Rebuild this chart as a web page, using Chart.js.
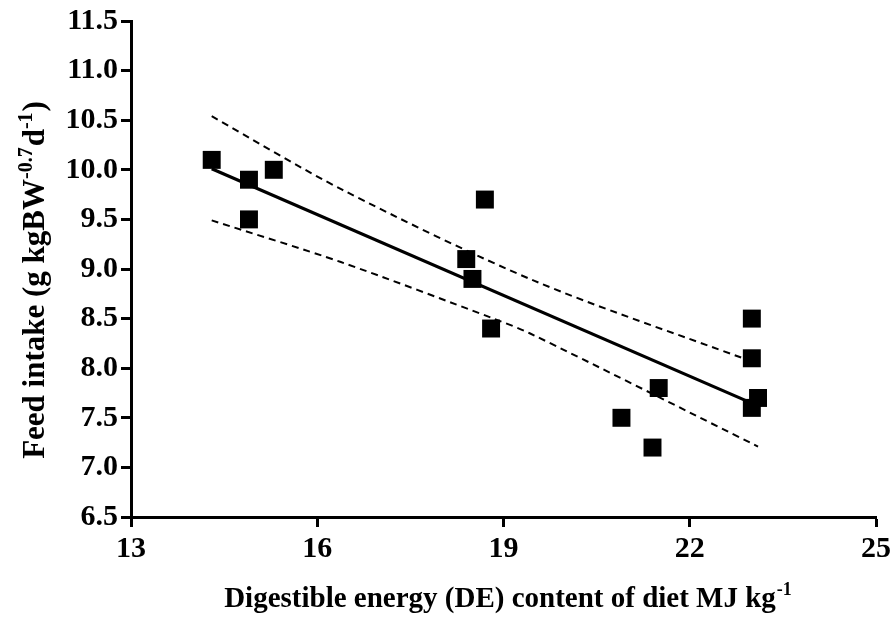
<!DOCTYPE html>
<html>
<head>
<meta charset="utf-8">
<script src="https://cdn.jsdelivr.net/npm/chart.js@4/dist/chart.umd.min.js"></script>
<style>
  html, body { margin: 0; padding: 0; background: #fff; }
  #wrap { width: 895px; height: 617px; position: relative; }
</style>
</head>
<body>
<div id="wrap"><canvas id="c" width="895" height="617"></canvas></div>
<script>
// ---- data ----
const deContent  = [14.3, 14.9, 15.3, 14.9, 18.7, 18.4, 18.5, 18.8, 23.0, 23.0, 23.1, 23.0, 21.5, 20.9, 21.4];
const feedIntake = [10.1, 9.9, 10.0, 9.5, 9.7, 9.1, 8.9, 8.4, 8.5, 8.1, 7.7, 7.6, 7.8, 7.5, 7.2];

const fitX = [14.3, 23.1];
const fitY = [10.01, 7.62];

const upperX = [14.3, 16.4, 19.5, 22.86, 23.1];
const upperY = [10.54, 9.80, 8.88, 8.10, 8.05];

const lowerX = [14.3, 16.38, 18.84, 19.43, 23.1];
const lowerY = [9.49, 9.07, 8.50, 8.35, 7.21];

const xTickValues = [13, 16, 19, 22, 25];
const xTickLabels = ['13', '16', '19', '22', '25'];
const yTickValues = [6.5, 7.0, 7.5, 8.0, 8.5, 9.0, 9.5, 10.0, 10.5, 11.0, 11.5];
const yTickLabels = ['6.5', '7.0', '7.5', '8.0', '8.5', '9.0', '9.5', '10.0', '10.5', '11.0', '11.5'];

const xTitleMain = 'Digestible energy (DE) content of diet MJ kg';
const xTitleSup = '-1';
const yTitleParts = [
  ['Feed intake (g kgBW', false],
  ['-0.7', true],
  ['d', false],
  ['-1', true],
  [')', false]
];

// ---- helpers ----
const pairs = (xs, ys) => xs.map((x, i) => ({ x: x, y: ys[i] }));
const FONT = 'Liberation Serif, Times New Roman, serif';

const titlePlugin = {
  id: 'axisTitles',
  afterDraw(chart) {
    const ctx = chart.ctx;
    ctx.save();
    ctx.fillStyle = '#000';
    ctx.textBaseline = 'alphabetic';
    ctx.textAlign = 'left';

    // x title
    const xMain = 'bold 29px ' + FONT;
    const xSup = 'bold 18px ' + FONT;
    ctx.font = xMain;
    const wMain = ctx.measureText(xTitleMain).width;
    ctx.font = xSup;
    const wSup = ctx.measureText(xTitleSup).width;
    const cx = 508;
    let x0 = cx - (wMain + wSup + 1) / 2;
    const base = 607;
    ctx.font = xMain;
    ctx.fillText(xTitleMain, x0, base);
    ctx.font = xSup;
    ctx.fillText(xTitleSup, x0 + wMain + 1, base - 12);

    // y title (rotated)
    const yMain = 'bold 31px ' + FONT;
    const ySup = 'bold 20px ' + FONT;
    let total = 0;
    yTitleParts.forEach(([t, sup]) => {
      ctx.font = sup ? ySup : yMain;
      total += ctx.measureText(t).width + (sup ? 1 : 0);
    });
    ctx.translate(44, 280);
    ctx.rotate(-Math.PI / 2);
    let px = -total / 2;
    yTitleParts.forEach(([t, sup]) => {
      ctx.font = sup ? ySup : yMain;
      ctx.fillText(t, px, sup ? -12 : 0);
      px += ctx.measureText(t).width + (sup ? 1 : 0);
    });
    ctx.restore();
  }
};

new Chart(document.getElementById('c'), {
  type: 'scatter',
  data: {
    datasets: [
      {
        label: 'Observed',
        data: pairs(deContent, feedIntake),
        pointStyle: 'rect',
        pointRadius: 12.7,
        pointHoverRadius: 12.7,
        backgroundColor: '#000',
        borderColor: '#000',
        pointBorderWidth: 0,
        showLine: false
      },
      {
        label: 'Regression',
        data: pairs(fitX, fitY),
        showLine: true,
        borderColor: '#000',
        borderWidth: 3.2,
        pointRadius: 0,
        fill: false
      },
      {
        label: 'Upper 95% CI',
        data: pairs(upperX, upperY),
        showLine: true,
        borderColor: '#000',
        borderWidth: 2,
        borderDash: [7, 5],
        pointRadius: 0,
        tension: 0.3,
        fill: false
      },
      {
        label: 'Lower 95% CI',
        data: pairs(lowerX, lowerY),
        showLine: true,
        borderColor: '#000',
        borderWidth: 2,
        borderDash: [7, 5],
        pointRadius: 0,
        tension: 0.3,
        fill: false
      }
    ]
  },
  options: {
    responsive: false,
    animation: false,
    devicePixelRatio: 1,
    layout: { padding: { left: 0, top: 20, right: 18, bottom: 0 } },
    plugins: {
      legend: { display: false },
      tooltip: { enabled: false },
      title: { display: false }
    },
    scales: {
      x: {
        type: 'linear',
        min: 13,
        max: 25,
        afterBuildTicks: (s) => { s.ticks = xTickValues.map(v => ({ value: v })); },
        afterFit: (s) => { s.height = 100; },
        ticks: {
          callback: (v) => xTickLabels[xTickValues.indexOf(v)],
          color: '#000',
          font: { family: FONT, size: 30, weight: 'bold' },
          padding: 4,
          maxRotation: 0,
          autoSkip: false
        },
        grid: {
          drawOnChartArea: false,
          drawTicks: true,
          tickLength: 10,
          tickColor: '#000',
          tickWidth: 3,
          color: '#000'
        },
        border: { display: true, color: '#000', width: 3 },
        title: { display: false }
      },
      y: {
        type: 'linear',
        min: 6.5,
        max: 11.5,
        afterBuildTicks: (s) => { s.ticks = yTickValues.map(v => ({ value: v })); },
        afterFit: (s) => { s.width = 131; },
        ticks: {
          callback: (v) => yTickLabels[yTickValues.indexOf(v)],
          color: '#000',
          font: { family: FONT, size: 30, weight: 'bold' },
          padding: 3,
          autoSkip: false
        },
        grid: {
          drawOnChartArea: false,
          drawTicks: true,
          tickLength: 10,
          tickColor: '#000',
          tickWidth: 3,
          color: '#000'
        },
        border: { display: true, color: '#000', width: 3 },
        title: { display: false }
      }
    }
  },
  plugins: [titlePlugin]
});
</script>
</body>
</html>
